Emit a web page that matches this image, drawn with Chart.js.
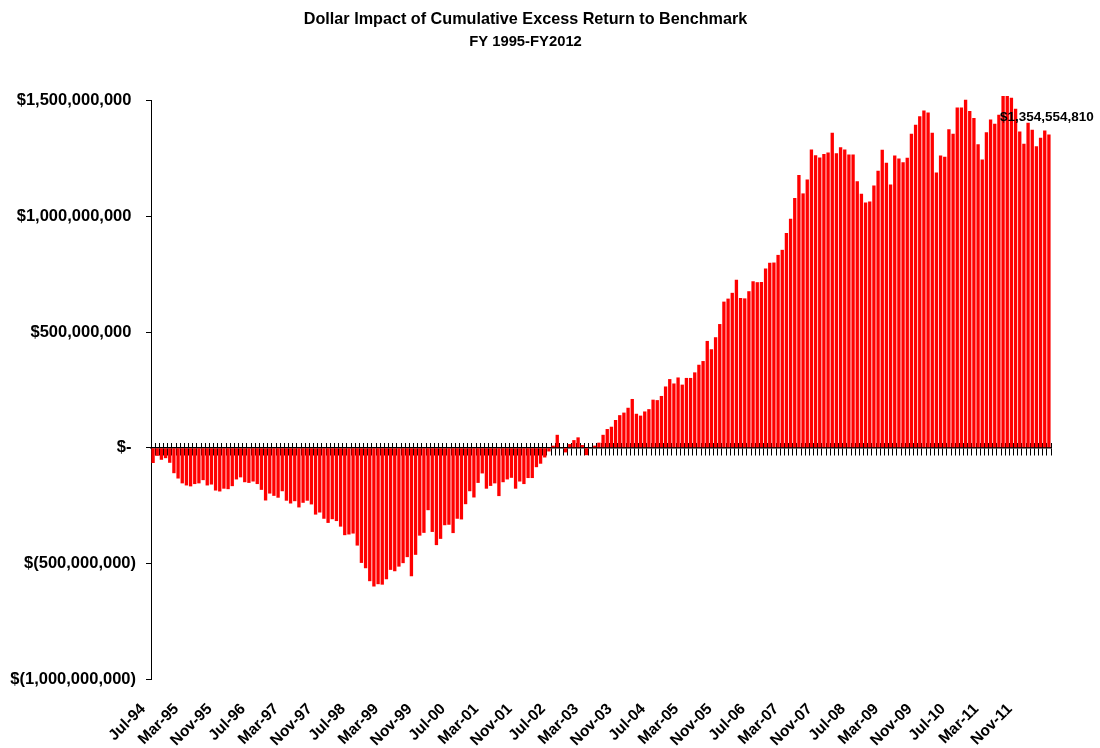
<!DOCTYPE html>
<html>
<head>
<meta charset="utf-8">
<script src="https://cdn.jsdelivr.net/npm/chart.js@4.4.1/dist/chart.umd.min.js"></script>
<style>
  html, body { margin: 0; padding: 0; background: #ffffff; }
  canvas { display: block; }
</style>
</head>
<body>
<canvas id="chart" width="1100" height="748"></canvas>
<script>
// ---------------- data ----------------
const chartTitle = 'Dollar Impact of Cumulative Excess Return to Benchmark';
const chartSubtitle = 'FY 1995-FY2012';

const monthNames = ['Jan','Feb','Mar','Apr','May','Jun','Jul','Aug','Sep','Oct','Nov','Dec'];
const firstYear = 1994;
const firstMonth = 6;      // July
const monthCount = 216;    // Jul-94 .. Jun-12
const labelEvery = 8;      // Jul-94, Mar-95, Nov-95, ...

// cumulative excess return, in millions of dollars
const excessMillions = [
  -66, -35, -52, -45, -65, -110, -133, -154, -163, -167,
  -157, -154, -140, -163, -159, -185, -189, -177, -179, -166,
  -137, -128, -149, -152, -146, -157, -182, -228, -198, -208,
  -216, -188, -229, -241, -231, -258, -238, -229, -245, -289,
  -280, -307, -325, -309, -317, -341, -378, -375, -371, -423,
  -498, -521, -577, -600, -590, -592, -569, -528, -534, -514,
  -499, -473, -556, -463, -380, -368, -270, -364, -421, -394,
  -335, -333, -369, -307, -310, -244, -188, -215, -152, -111,
  -177, -165, -154, -209, -149, -137, -130, -177, -146, -157,
  -131, -131, -84, -69, -42, -16, 9, 56, 2, -20,
  16, 33, 45, 12, -32, 2, 9, 22, 56, 81,
  91, 120, 141, 152, 173, 211, 147, 139, 157, 167,
  208, 206, 224, 265, 297, 278, 304, 273, 302, 302,
  326, 359, 375, 462, 426, 478, 535, 632, 645, 670,
  727, 648, 646, 677, 720, 716, 717, 775, 800, 801,
  834, 856, 929, 990, 1080, 1180, 1100, 1160, 1290, 1265,
  1255, 1270, 1277, 1362, 1274, 1300, 1290, 1268, 1268, 1153,
  1098, 1061, 1065, 1134, 1198, 1289, 1232, 1139, 1264, 1251,
  1235, 1254, 1358, 1397, 1434, 1459, 1450, 1362, 1190, 1264,
  1258, 1377, 1358, 1471, 1471, 1505, 1456, 1426, 1312, 1247,
  1364, 1420, 1401, 1440, 1521, 1521, 1514, 1466, 1368, 1315,
  1406, 1375, 1304, 1341, 1372, 1354.55481
];

const yMin = -1000000000;
const yMax = 1500000000;
const yStep = 500000000;

// ---------------- helpers ----------------
const categories = [];
for (let i = 0; i < monthCount; i++) {
  const m = (firstMonth + i) % 12;
  const y = firstYear + Math.floor((firstMonth + i) / 12);
  categories.push(monthNames[m] + '-' + String(y % 100).padStart(2, '0'));
}
const values = excessMillions.map(v => Math.round(v * 1000000));

function groupDigits(n) {
  return String(Math.round(Math.abs(n))).replace(/\B(?=(\d{3})+(?!\d))/g, ',');
}
function accounting(v) {
  if (v === 0) return '$- ';
  if (v < 0) return '$(' + groupDigits(v) + ')';
  return '$' + groupDigits(v) + ' ';
}

const FONT = "'Liberation Sans', Arial, Helvetica, sans-serif";

// label on the last bar
const lastValueLabel = {
  id: 'lastValueLabel',
  afterDatasetsDraw(chart) {
    const meta = chart.getDatasetMeta(0);
    const idx = meta.data.length - 1;
    const el = meta.data[idx];
    if (!el) return;
    const ctx = chart.ctx;
    ctx.save();
    ctx.font = 'bold 13.5px ' + FONT;
    ctx.fillStyle = '#000000';
    ctx.textAlign = 'center';
    ctx.textBaseline = 'middle';
    ctx.fillText('$' + groupDigits(values[idx]), el.x - 2, el.y - 17);
    ctx.restore();
  }
};

new Chart(document.getElementById('chart'), {
  type: 'bar',
  data: {
    labels: categories,
    datasets: [{
      data: values,
      backgroundColor: '#FF0000',
      borderWidth: 0,
      barPercentage: 0.8,
      categoryPercentage: 1.0,
      clip: false,
      xAxisID: 'x',
      yAxisID: 'y'
    }]
  },
  options: {
    responsive: false,
    animation: false,
    devicePixelRatio: 1,
    layout: { padding: { left: 0, right: 49, top: 0, bottom: 0 } },
    plugins: {
      legend: { display: false },
      tooltip: { enabled: false },
      title: {
        display: true,
        text: chartTitle,
        color: '#000000',
        font: { family: FONT, size: 16.2, weight: 'bold', lineHeight: 1.2 },
        padding: { top: 10.3, bottom: 0 }
      },
      subtitle: {
        display: true,
        text: chartSubtitle,
        color: '#000000',
        font: { family: FONT, size: 14.8, weight: 'bold', lineHeight: 1.2 },
        padding: { top: 3.4, bottom: 50 }
      }
    },
    scales: {
      x: {
        type: 'category',
        position: 'bottom',
        offset: true,
        grid: { display: false, offset: true },
        border: { display: false },
        ticks: {
          autoSkip: false,
          maxRotation: 45,
          minRotation: 45,
          padding: 13,
          labelOffset: -10,
          color: '#000000',
          font: { family: FONT, size: 15.5, weight: 'bold' },
          callback: function (val, index) {
            return index % labelEvery === 0 ? this.getLabelForValue(val) : '';
          }
        },
        afterFit: (scale) => { scale.height = 69; }
      },
      xz: {
        type: 'category',
        axis: 'x',
        position: { y: 0 },
        offset: true,
        z: 1,
        grid: { display: true, offset: true, drawOnChartArea: false, drawTicks: true, tickLength: 7, color: '#000000', lineWidth: 1 },
        border: { display: true, color: '#000000', width: 1.5 },
        ticks: { display: false }
      },
      xz2: {
        type: 'category',
        axis: 'x',
        position: { y: 0 },
        offset: true,
        z: 1,
        grid: { display: true, offset: true, drawOnChartArea: false, drawTicks: true, tickLength: -5, color: '#000000', lineWidth: 1 },
        border: { display: false },
        ticks: { display: false }
      },
      y: {
        type: 'linear',
        position: 'left',
        min: yMin,
        max: yMax,
        grid: { display: true, drawOnChartArea: false, drawTicks: true, tickLength: 5, color: '#000000' },
        border: { display: true, color: '#000000', width: 1 },
        ticks: {
          stepSize: yStep,
          padding: 10,
          color: '#000000',
          font: { family: FONT, size: 16.5, weight: 'bold' },
          callback: (v) => accounting(v)
        },
        afterFit: (scale) => { scale.width = 151; }
      }
    }
  },
  plugins: [lastValueLabel]
});
</script>
</body>
</html>
